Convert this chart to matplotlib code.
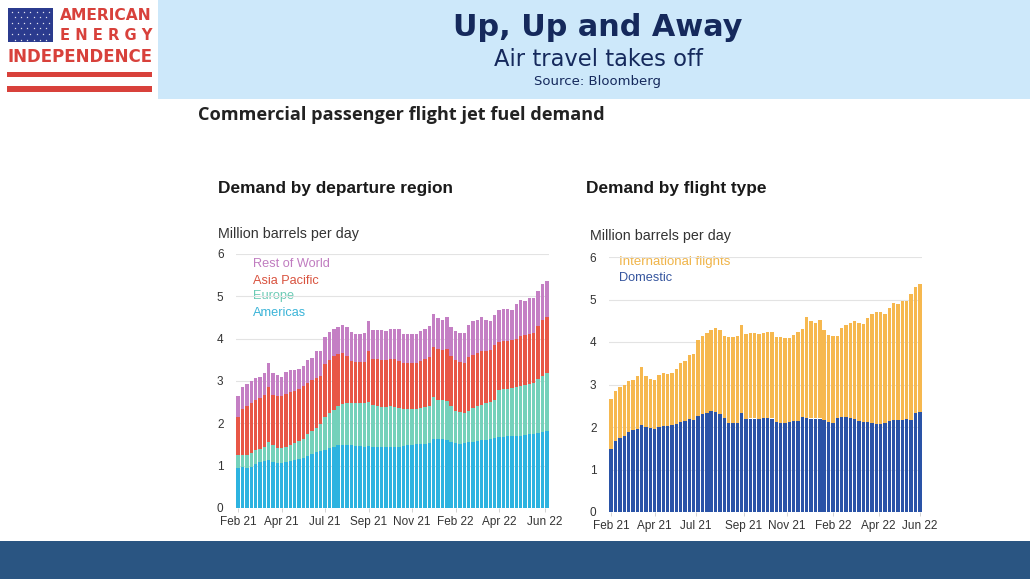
import numpy as np
import matplotlib.pyplot as plt
from matplotlib.patches import Rectangle

# weekly jet fuel demand, million barrels per day (Feb 21 .. Jun 22)
americas = [0.95, 0.96, 0.95, 0.98, 1.04, 1.08, 1.10, 1.13, 1.08, 1.06,
            1.06, 1.08, 1.12, 1.14, 1.16, 1.18, 1.22, 1.27, 1.32, 1.35,
            1.38, 1.42, 1.45, 1.48, 1.49, 1.49, 1.48, 1.47, 1.46, 1.45,
            1.47, 1.45, 1.44, 1.45, 1.45, 1.45, 1.44, 1.44, 1.47, 1.50,
            1.50, 1.51, 1.51, 1.52, 1.54, 1.64, 1.63, 1.62, 1.60, 1.57,
            1.54, 1.52, 1.53, 1.55, 1.57, 1.59, 1.60, 1.61, 1.63, 1.66,
            1.68, 1.68, 1.69, 1.70, 1.70, 1.71, 1.72, 1.74, 1.75, 1.77,
            1.80, 1.83]
europe = [0.30, 0.30, 0.31, 0.32, 0.32, 0.32, 0.34, 0.43, 0.40, 0.36,
          0.36, 0.37, 0.38, 0.40, 0.42, 0.46, 0.52, 0.55, 0.58, 0.63,
          0.78, 0.82, 0.87, 0.92, 0.97, 0.99, 1.00, 1.00, 1.01, 1.03,
          1.03, 0.99, 0.96, 0.93, 0.94, 0.95, 0.95, 0.92, 0.88, 0.85,
          0.85, 0.84, 0.85, 0.86, 0.86, 0.98, 0.93, 0.92, 0.92, 0.83,
          0.76, 0.74, 0.72, 0.75, 0.79, 0.81, 0.84, 0.87, 0.87, 0.90,
          1.10, 1.14, 1.13, 1.14, 1.16, 1.17, 1.18, 1.18, 1.21, 1.27,
          1.32, 1.35]
asia_pacific = [0.90, 1.09, 1.16, 1.18, 1.20, 1.20, 1.22, 1.29, 1.20, 1.22,
                1.22, 1.25, 1.24, 1.22, 1.22, 1.24, 1.22, 1.20, 1.18, 1.14,
                1.24, 1.26, 1.26, 1.24, 1.20, 1.12, 1.00, 0.99, 0.99, 0.98,
                1.22, 1.08, 1.12, 1.12, 1.11, 1.12, 1.13, 1.12, 1.07, 1.07,
                1.07, 1.07, 1.12, 1.14, 1.16, 1.18, 1.20, 1.20, 1.24, 1.20,
                1.20, 1.18, 1.17, 1.26, 1.26, 1.26, 1.26, 1.22, 1.24, 1.28,
                1.14, 1.12, 1.12, 1.12, 1.14, 1.18, 1.18, 1.20, 1.18, 1.26,
                1.32, 1.34]
rest_of_world = [0.50, 0.50, 0.51, 0.52, 0.52, 0.50, 0.54, 0.57, 0.52, 0.50,
                 0.46, 0.52, 0.53, 0.49, 0.48, 0.48, 0.54, 0.53, 0.62, 0.60,
                 0.65, 0.65, 0.64, 0.64, 0.67, 0.68, 0.67, 0.66, 0.66, 0.67,
                 0.69, 0.68, 0.68, 0.70, 0.68, 0.70, 0.72, 0.76, 0.70, 0.70,
                 0.68, 0.68, 0.69, 0.72, 0.74, 0.78, 0.74, 0.70, 0.76, 0.68,
                 0.67, 0.70, 0.72, 0.76, 0.79, 0.78, 0.80, 0.74, 0.68, 0.72,
                 0.75, 0.77, 0.76, 0.71, 0.81, 0.85, 0.81, 0.85, 0.83, 0.83,
                 0.85, 0.85]
domestic = [1.48, 1.66, 1.74, 1.80, 1.88, 1.92, 1.96, 2.04, 2.00, 1.98,
            1.96, 2.00, 2.02, 2.02, 2.04, 2.08, 2.12, 2.14, 2.18, 2.16,
            2.26, 2.30, 2.33, 2.37, 2.35, 2.30, 2.22, 2.10, 2.10, 2.10,
            2.32, 2.18, 2.20, 2.20, 2.18, 2.21, 2.21, 2.20, 2.12, 2.10,
            2.10, 2.12, 2.15, 2.14, 2.24, 2.22, 2.20, 2.20, 2.20, 2.17,
            2.12, 2.10, 2.22, 2.24, 2.23, 2.22, 2.18, 2.15, 2.11, 2.11,
            2.10, 2.08, 2.06, 2.10, 2.14, 2.17, 2.17, 2.17, 2.19, 2.16,
            2.34, 2.35]
international = [1.17, 1.19, 1.19, 1.20, 1.20, 1.18, 1.24, 1.38, 1.20, 1.16,
                 1.14, 1.22, 1.25, 1.23, 1.24, 1.28, 1.38, 1.41, 1.52, 1.56,
                 1.79, 1.85, 1.89, 1.91, 1.98, 1.98, 1.93, 2.02, 2.02, 2.03,
                 2.09, 2.02, 2.00, 2.00, 2.00, 2.01, 2.03, 2.04, 2.00, 2.02,
                 2.00, 1.98, 2.02, 2.10, 2.06, 2.36, 2.30, 2.24, 2.32, 2.11,
                 2.05, 2.04, 1.92, 2.08, 2.18, 2.22, 2.32, 2.29, 2.31, 2.45,
                 2.57, 2.63, 2.64, 2.57, 2.67, 2.74, 2.72, 2.80, 2.78, 2.97,
                 2.95, 3.02]
tick_labels = ['Feb 21', 'Apr 21', 'Jul 21', 'Sep 21', 'Nov 21', 'Feb 22', 'Apr 22', 'Jun 22']

W, H = 1030, 579
fig = plt.figure(figsize=(W / 100, H / 100), dpi=100)
bg = fig.add_axes([0, 0, 1, 1])
bg.set_xlim(0, W)
bg.set_ylim(H, 0)
bg.axis('off')

texts_to_fit = []


def ptext(x, y, s, width=None, **kw):
    t = bg.text(x, y, s, **kw)
    if width is not None:
        texts_to_fit.append((t, width))
    return t


# header band and footer band
bg.add_patch(Rectangle((158, 0), W - 158, 99, color='#cde8fa', lw=0))
bg.add_patch(Rectangle((0, 541), W, H - 541, color='#2a5582', lw=0))

# logo
red = '#d8413b'
bg.add_patch(Rectangle((8, 8), 45, 34, color='#2b3b8e', lw=0))
sx, sy = [], []
for r in range(6):
    for c in range(7 - r % 2):
        sx.append(11.5 + c * 6.3 + (r % 2) * 3.1)
        sy.append(11.5 + r * 5.6)
bg.scatter(sx, sy, s=2.5, color='white', marker='*', lw=0)
bg.add_patch(Rectangle((7, 72), 145, 5, color=red, lw=0))
bg.add_patch(Rectangle((7, 86), 145, 5.5, color=red, lw=0))
ptext(106, 16, 'AMERICAN', 92, ha='center', va='center', color=red,
      fontsize=11, fontweight='bold', family='DejaVu Sans')
ptext(106, 35, 'E N E R G Y', 92, ha='center', va='center', color=red,
      fontsize=11, fontweight='bold', family='DejaVu Sans')
ptext(80, 57, 'INDEPENDENCE', 145, ha='center', va='center', color=red,
      fontsize=11, fontweight='bold', family='DejaVu Sans')

# header titles
navy = '#15295c'
ptext(598, 27, 'Up, Up and Away', 290, ha='center', va='center', color=navy,
      fontsize=20, fontweight='bold', family='DejaVu Sans')
ptext(598, 59, 'Air travel takes off', 209, ha='center', va='center', color=navy,
      fontsize=15, family='DejaVu Sans')
ptext(597, 82, 'Source: Bloomberg', 126, ha='center', va='center', color=navy,
      fontsize=10, family='DejaVu Sans')

ptext(198, 115, 'Commercial passenger flight jet fuel demand', 406, ha='left', va='center',
      color='#222222', fontsize=12, fontweight='bold', family='Open Sans')
ptext(218, 188, 'Demand by departure region', 235, ha='left', va='center',
      color='#1a1a1a', fontsize=11, fontweight='bold', family='Liberation Sans')
ptext(586, 188, 'Demand by flight type', 180, ha='left', va='center',
      color='#1a1a1a', fontsize=11, fontweight='bold', family='Liberation Sans')
ptext(218, 234, 'Million barrels per day', 140, ha='left', va='center',
      color='#333333', fontsize=9, family='Liberation Sans')
ptext(590, 236, 'Million barrels per day', 141, ha='left', va='center',
      color='#333333', fontsize=9, family='Liberation Sans')


def make_ax(x0, x1, y_top, y_bottom):
    ax = fig.add_axes([x0 / W, 1 - y_bottom / H, (x1 - x0) / W, (y_bottom - y_top) / H])
    ax.set_facecolor('none')
    ax.set_ylim(0, 6)
    ax.set_yticks(range(7))
    ax.set_xlim(-0.5, 71.5)
    ax.grid(axis='y', color='#e3e3e3', lw=0.8)
    ax.set_axisbelow(True)
    for s in ax.spines.values():
        s.set_visible(False)
    ax.tick_params(axis='y', length=0, pad=9, labelsize=8.5, labelcolor='#333333')
    ax.tick_params(axis='x', length=3, width=0.6, color='#cccccc', pad=3,
                   labelsize=8.5, labelcolor='#333333')
    for lab in ax.get_yticklabels() + ax.get_xticklabels():
        lab.set_family('Liberation Sans')
    return ax


x = np.arange(len(americas))
bw = 0.78

# left chart: by departure region
ax1 = make_ax(236, 549, 254, 508)
b0 = np.zeros(len(x))
for vals, col in [(americas, '#2db3e0'), (europe, '#74d1bb'),
                  (asia_pacific, '#e85746'), (rest_of_world, '#c47fc4')]:
    ax1.bar(x, vals, bw, bottom=b0, color=col, lw=0)
    b0 = b0 + np.array(vals)
ax1.set_xticks([0, 10, 20, 30, 40, 50, 60, 70.5])
ax1.set_xticklabels(tick_labels, family='Liberation Sans')

# right chart: by flight type
ax2 = make_ax(609, 922, 257, 512)
ax2.bar(x, domestic, bw, color='#2a53a7', lw=0)
ax2.bar(x, international, bw, bottom=domestic, color='#f6b84f', lw=0)
ax2.set_xticks([0, 10, 19.5, 30.5, 40.5, 51, 61.5, 71])
ax2.set_xticklabels(tick_labels, family='Liberation Sans')

# in-chart legends
for s, yy, col in [('Rest of World', 264, '#c07cc0'), ('Asia Pacific', 280.5, '#d9533f'),
                   ('Europe', 296.5, '#6ccbb5'), ('Americas', 312.5, '#3bb4d8')]:
    ptext(253, yy, s, ha='left', va='center', color=col, fontsize=9.2, family='Liberation Sans')
ptext(619, 262.5, 'International flights', 111, ha='left', va='center', color='#f0b448',
      fontsize=9.2, family='Liberation Sans')
ptext(619, 278, 'Domestic', ha='left', va='center', color='#35559e',
      fontsize=9.2, family='Liberation Sans')

# scale fitted texts to their measured widths
fig.canvas.draw()
rend = fig.canvas.get_renderer()
for t, wpx in texts_to_fit:
    bb = t.get_window_extent(renderer=rend)
    t.set_fontsize(t.get_fontsize() * wpx / bb.width)

fig.savefig('out.png', dpi=100)
